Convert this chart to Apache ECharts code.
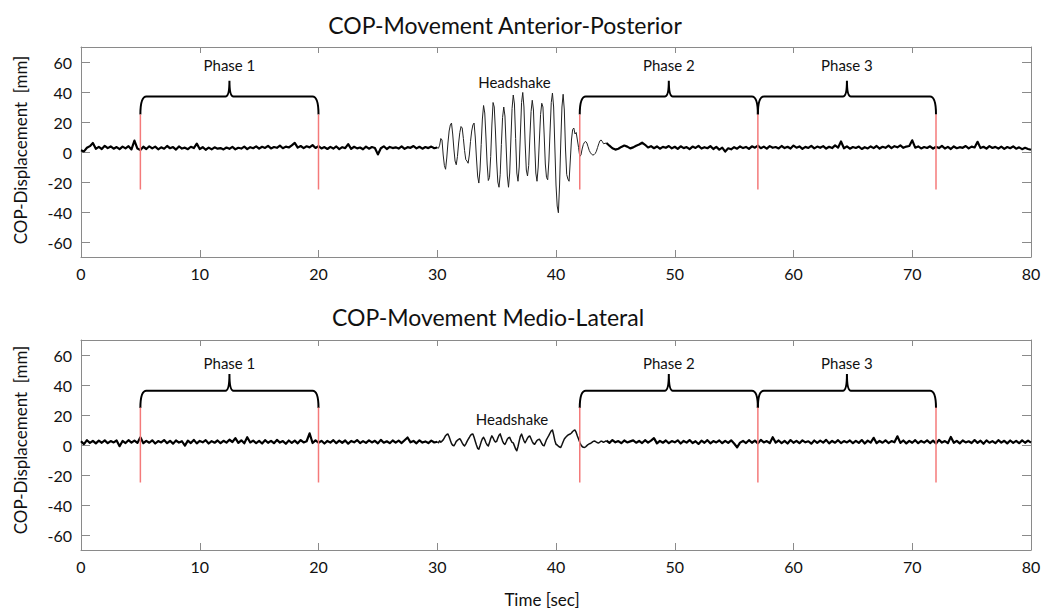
<!DOCTYPE html>
<html><head><meta charset="utf-8">
<script src="https://cdn.jsdelivr.net/npm/echarts@6/dist/echarts.min.js"></script>
<style>html,body{margin:0;padding:0;background:#fff}#c{width:1046px;height:612px}</style>
</head><body><div id="c"></div>
<script>
// ---------- tick labels ----------
const xTicks = [0, 10, 20, 30, 40, 50, 60, 70, 80];
const yTicks = [-60, -40, -20, 0, 20, 40, 60];

// ---------- phases & markers ----------
const phaseNames = ['Phase 1', 'Phase 2', 'Phase 3'];
const phaseStart = [5, 42, 57];
const phaseEnd = [20, 57, 72];
const markerTimes = [5, 20, 42, 57, 72];
const markerRange = [-25, 25];
const braceAP = { end: 25, line: 37, peak: 47.5, label: 57.7 };
const braceML = { end: 24.7, line: 36.2, peak: 47.3, label: 54.7 };
const headshakeAP = [36.5, 46.5];
const headshakeML = [36.3, 17.3];

// ---------- Anterior-Posterior signal (mm) ----------
// 0 .. 30 s, every 0.25 s
const apQuiet1 = [
  1.2, 0.4, 2.8, 3.9, 6.0, 2.1, 3.4, 2.0, 4.1, 2.6, 3.7, 2.2,
  3.3, 1.9, 3.6, 2.4, 3.9, 1.7, 7.6, 2.3, 1.4, 3.5, 2.0, 3.8,
  2.4, 3.6, 1.8, 3.1, 2.2, 4.0, 2.5, 3.3, 1.6, 3.7, 2.3, 2.9,
  1.9, 3.5, 2.6, 5.6, 2.0, 3.2, 1.5, 2.9, 1.8, 3.1, 2.2, 2.6,
  1.7, 3.0, 2.1, 3.4, 1.8, 2.8, 2.3, 3.6, 1.9, 3.2, 2.5, 3.8,
  2.2, 3.5, 2.7, 4.1, 2.4, 3.3, 2.8, 4.2, 2.5, 3.6, 3.0, 4.4,
  6.1, 2.9, 4.0, 2.6, 3.8, 3.1, 4.6, 2.7, 3.9, 2.4, 3.3, 2.0,
  3.4, 2.3, 3.7, 1.9, 3.2, 2.6, 5.2, 2.1, 3.5, 2.4, 3.0, 1.8,
  3.6, 2.2, 3.3, 2.7, -1.6, 2.5, 3.8, 2.0, 3.4, 2.6, 3.1, 2.3,
  3.7, 2.1, 3.2, 2.8, 4.0, 2.4, 3.5, 2.2, 3.3, 2.6, 3.6, 2.5,
  3.0
];
// 30.1 .. 44.0 s, every 0.1 s (one row per second)
const apShake = [
  2.5, 4.5, 9.0, 8.0, -2.0, -9.0, -11.5, -4.0, 6.0, 14.0,
  18.0, 19.3, 12.0, 2.0, -6.0, -8.5, -3.0, 6.0, 13.0, 17.0,
  16.0, 9.0, 1.0, -5.0, -6.0, -7.5, -2.0, 7.0, 14.0, 18.0,
  19.3, 10.0, -4.0, -16.0, -20.7, -12.0, 5.0, 22.0, 31.0, 26.0,
  10.0, -8.0, -19.0, -17.0, -3.0, 18.0, 33.0, 30.0, 14.0, -6.0,
  -20.0, -23.5, -15.0, 5.0, 23.0, 30.0, 24.0, 4.0, -16.0, -23.5,
  -14.0, 8.0, 29.0, 38.0, 32.0, 9.0, -14.0, -19.5, -10.0, 12.0,
  33.0, 39.7, 30.0, 6.0, -12.0, -16.0, -9.0, 10.0, 27.0, 34.5,
  28.0, 6.0, -14.0, -19.5, -10.0, 8.0, 25.0, 32.5, 30.0, 12.0,
  -8.0, -17.0, -18.5, -6.0, 14.0, 33.0, 39.3, 30.0, 4.0, -22.0,
  -36.0, -40.5, -22.0, 6.0, 30.0, 38.5, 28.0, 2.0, -15.0, -18.0,
  -19.5, -6.0, 8.0, 15.0, 16.0, 12.0, 13.0, 8.0, 3.0, -3.0,
  -2.0, 2.0, 5.0, 6.5, 7.0, 6.0, 3.5, 1.0, -0.5, -1.5,
  -2.0, -1.8, -1.0, 0.5, 3.0, 5.5, 7.5, 8.0, 7.0, 5.5
];
// 44.25 .. 80 s, every 0.25 s
const apQuiet2 = [
  6.0, 4.2, 2.5, 1.6, 2.2, 3.4, 4.3, 3.6, 2.4, 3.1, 4.2, 5.0,
  6.2, 4.8, 3.0, 3.9, 2.5, 3.7, 2.2, 3.4, 2.8, 4.0, 2.4, 3.5,
  2.1, 3.8, 2.6, 3.3, 1.9, 3.6, 2.7, 4.1, 2.3, 3.2, 2.5, 3.9,
  2.0, 3.4, 1.6, 2.9, 0.3, 2.5, 1.8, 3.2, 2.2, 3.7, 2.6, 3.4,
  2.1, 3.8, 2.9, 4.2, 2.5, 3.6, 2.2, 3.9, 2.8, 3.3, 2.4, 4.0,
  2.6, 3.5, 2.3, 4.3, 2.9, 3.7, 2.1, 3.4, 2.7, 4.1, 2.4, 3.6,
  2.8, 3.9, 2.3, 3.5, 2.6, 4.4, 2.9, 7.0, 2.5, 3.8, 2.2, 3.3,
  2.7, 3.6, 2.0, 3.2, 2.4, 3.7, 2.6, 4.0, 2.3, 3.5, 2.8, 4.2,
  2.6, 3.9, 3.1, 4.4, 2.8, 3.6, 4.0, 7.8, 2.9, 3.7, 2.4, 3.3,
  2.7, 3.8, 2.2, 3.5, 2.6, 4.1, 2.3, 3.4, 2.0, 3.7, 2.5, 3.2,
  2.8, 4.0, 2.4, 3.6, 3.0, 6.8, 2.6, 3.5, 2.2, 3.9, 2.7, 3.4,
  2.3, 3.6, 2.1, 3.3, 2.5, 3.8, 2.2, 3.1, 1.9, 2.8, 2.0, 1.5
];

// ---------- Medio-Lateral signal (mm) ----------
const mlQuiet1 = [
  2.5, 0.6, 3.2, 1.4, 2.8, 1.1, 2.9, 1.5, 3.1, 1.2, 2.6, 1.7,
  3.0, -0.8, 2.7, 1.3, 3.2, 1.6, 2.9, 1.4, 5.1, 1.2, 2.8, 1.5,
  3.1, 1.0, 2.6, 1.7, 3.3, 1.2, 2.8, 0.9, 3.0, 1.6, 2.5, -0.4,
  2.9, 1.3, 3.4, 1.1, 2.7, 1.8, 3.2, 1.0, 2.6, 1.5, 3.0, 1.2,
  2.8, 1.6, 3.5, 2.0, 4.6, 1.4, 3.1, 1.1, 5.2, 1.7, 2.9, 1.3,
  2.7, 1.0, 3.2, 1.5, 2.8, 1.2, 3.4, 1.6, 2.6, 0.8, 3.0, 1.4,
  2.9, 1.1, 3.3, 1.7, 2.5, 7.8, 1.3, 3.1, 1.5, 2.8, 1.0, 2.7,
  1.6, 3.2, 1.2, 2.9, 1.5, 3.0, 0.9, 2.7, 1.8, 3.3, 1.3, 2.6,
  1.4, 3.1, 1.7, 2.8, 1.1, 3.4, 1.5, 2.5, 1.2, 3.0, 1.6, 2.9,
  1.3, 3.2, 5.0, 1.8, 2.7, 1.1, 3.1, 1.6, 2.4, 1.3, 2.9, 1.7,
  2.2
];
const mlShake = [
  1.5, 2.8, 1.9, 2.6, 3.4, 4.8, 6.2, 7.0, 7.3, 5.5,
  3.2, 1.0, -0.2, -0.5, 0.8, 2.4, 3.1, 3.8, 4.2, 3.0,
  1.4, 0.1, -0.6, 0.6, 2.2, 3.8, 5.0, 6.4, 7.2, 7.4,
  5.2, 2.5, 0.0, -2.2, -2.8, -0.5, 2.1, 4.2, 5.1, 3.6,
  1.5, 0.1, -0.6, 1.6, 4.3, 6.1, 4.8, 3.0, 2.0, 2.4,
  4.6, 6.5, 7.4, 5.0, 2.6, 1.0, 0.4, 2.0, 3.9, 4.8,
  5.1, 3.2, 1.8, 1.4, -0.6, -2.7, -3.8, -1.0, 2.6, 5.8,
  7.3, 5.0, 2.8, 1.5, 3.0, 4.6, 5.7, 6.0, 4.2, 2.3,
  1.0, 0.5, 1.8, 3.0, 3.6, 3.9, 2.6, 1.0, -0.2, -0.5,
  1.5, 3.6, 5.0, 6.4, 8.0, 9.4, 10.0, 6.8, 3.0, 0.5,
  0.0, -0.8, -1.4, -1.6, 0.2, 2.2, 4.0, 5.0, 5.8, 6.6,
  7.0, 7.3, 8.0, 9.0, 9.7, 10.0, 8.4, 6.0, 4.0, 1.8,
  0.0, -1.0, -1.5, -1.6, -1.2, -0.4, 0.3, 0.8, 1.0, 1.6,
  2.2, 2.6, 2.5, 1.9, 1.5, 1.4, 2.0, 2.6, 2.3, 1.8
];
const mlQuiet2 = [
  2.9, 1.4, 3.3, 1.8, 2.6, 1.2, 3.0, 1.7, 2.4, 3.1, 1.5, 2.7,
  1.3, 3.2, 1.6, 2.9, 4.6, 1.1, 2.8, 1.5, 3.0, 1.2, 2.6, 1.8,
  3.1, 1.0, 2.7, 1.6, 3.3, 1.3, 2.5, 0.7, 2.9, 1.5, 3.2, 1.1,
  2.6, 1.7, 3.0, 1.2, 2.8, 1.4, 3.1, 1.0, -1.6, 1.6, 2.7, 1.3,
  3.2, 1.5, 2.9, 1.1, 3.4, 1.7, 2.6, 1.2, 5.2, 1.6, 3.0, 1.3,
  2.7, 1.0, 3.3, 1.5, 2.8, 1.2, 3.1, 1.8, 2.5, 0.9, 3.0, 1.4,
  2.9, 1.6, 3.4, 1.1, 2.7, 1.5, 3.2, 1.3, 2.6, 1.7, 3.0, 1.2,
  2.8, 1.4, 3.3, 1.0, 2.9, 1.6, 4.8, 1.2, 2.7, 1.5, 3.1, 1.3,
  2.6, 1.8, 5.8, 1.4, 3.0, 1.1, 2.8, 1.5, 3.2, 1.2, 2.7, 1.6,
  3.1, 1.3, 2.9, 1.0, 3.4, 1.6, 2.6, 1.2, 5.4, 1.5, 2.8, 1.1,
  3.0, 1.7, 2.5, 1.3, 3.3, 1.4, 2.9, 0.8, 3.1, 1.5, 2.6, 1.2,
  3.2, 1.6, 2.8, 1.1, 3.0, 1.4, 2.7, 1.2, 3.1, 1.5, 2.9, 1.6
];

// sampling layout of the segments (start time, step in s)
const quiet1Time = [0, 0.25];
const shakeTime = [30.1, 0.1];
const quiet2Time = [44.25, 0.25];

function seg(time, vals) {
  return vals.map((v, i) => [+(time[0] + i * time[1]).toFixed(2), v]);
}
function shakeWithJoins(q1, sh, q2) {
  const a = seg(quiet1Time, q1), b = seg(quiet2Time, q2);
  return [a[a.length - 1]].concat(seg(shakeTime, sh), [b[0]]);
}
const apQ1 = seg(quiet1Time, apQuiet1), apQ2 = seg(quiet2Time, apQuiet2);
const apSh = shakeWithJoins(apQuiet1, apShake, apQuiet2);
const mlQ1 = seg(quiet1Time, mlQuiet1), mlQ2 = seg(quiet2Time, mlQuiet2);
const mlSh = shakeWithJoins(mlQuiet1, mlShake, mlQuiet2);

const FONT = 'Lato, "Open Sans", sans-serif';
const AXIS_GRAY = '#8a8a8a';

const chart = echarts.init(document.getElementById('c'), null, { renderer: 'svg' });

function xAx(grid, top) {
  return {
    type: 'value', gridIndex: grid, position: top ? 'top' : 'bottom',
    min: 0, max: 80, interval: 10,
    axisLine: { show: true, onZero: false, lineStyle: { color: AXIS_GRAY, width: 1 } },
    axisTick: { show: true, inside: true, length: top ? 6 : 7, lineStyle: { color: AXIS_GRAY } },
    axisLabel: { show: !top, margin: 8, color: '#111', fontSize: 16, fontFamily: FONT,
      showMinLabel: true, showMaxLabel: true },
    splitLine: { show: false }
  };
}
function yAx(grid, right) {
  return {
    type: 'value', gridIndex: grid, position: right ? 'right' : 'left',
    min: -70, max: 70,
    axisLine: { show: true, onZero: false, lineStyle: { color: AXIS_GRAY, width: 1 } },
    axisTick: { show: true, inside: true, length: 9, customValues: yTicks, lineStyle: { color: AXIS_GRAY } },
    axisLabel: { show: !right, margin: 9, color: '#111', fontSize: 16, fontFamily: FONT, customValues: yTicks },
    splitLine: { show: false }
  };
}

function braceSeries(xi, yi, lv) {
  return {
    type: 'custom', xAxisIndex: xi, yAxisIndex: yi, silent: true, z: 5,
    data: phaseStart.map((s, i) => [s, phaseEnd[i]]),
    renderItem: function (params, api) {
      const x1 = api.value(0), x2 = api.value(1), xm = (x1 + x2) / 2;
      const a = api.coord([x1, lv.end]);
      const l = api.coord([x1, lv.line]);
      const b = api.coord([x2, lv.end]);
      const m = api.coord([xm, lv.peak]);
      const t = api.coord([xm, lv.label]);
      const r = 6, rc = 4;
      const ly = l[1];
      const d = 'M' + a[0] + ',' + a[1] +
        ' Q' + a[0] + ',' + ly + ' ' + (a[0] + r) + ',' + ly +
        ' L' + (m[0] - rc) + ',' + ly +
        ' Q' + m[0] + ',' + ly + ' ' + m[0] + ',' + m[1] +
        ' Q' + m[0] + ',' + ly + ' ' + (m[0] + rc) + ',' + ly +
        ' L' + (b[0] - r) + ',' + ly +
        ' Q' + b[0] + ',' + ly + ' ' + b[0] + ',' + b[1];
      return {
        type: 'group',
        children: [
          { type: 'path', shape: { pathData: d }, style: { fill: 'none', stroke: '#000', lineWidth: 2 } },
          { type: 'text', x: t[0], y: t[1], style: { text: phaseNames[params.dataIndex], fill: '#111',
            font: '15px ' + FONT, align: 'center', verticalAlign: 'middle' } }
        ]
      };
    }
  };
}
function markerSeries(xi, yi) {
  return {
    type: 'custom', xAxisIndex: xi, yAxisIndex: yi, silent: true, z: 6,
    data: markerTimes.map(t => [t]),
    renderItem: function (params, api) {
      const p1 = api.coord([api.value(0), markerRange[0]]);
      const p2 = api.coord([api.value(0), markerRange[1]]);
      return { type: 'line', shape: { x1: p1[0], y1: p1[1], x2: p2[0], y2: p2[1] },
        style: { stroke: '#f47a7a', lineWidth: 1.5 } };
    }
  };
}
function textSeries(xi, yi, pos) {
  return {
    type: 'custom', xAxisIndex: xi, yAxisIndex: yi, silent: true, z: 5,
    data: [pos],
    renderItem: function (params, api) {
      const p = api.coord([api.value(0), api.value(1)]);
      return { type: 'text', x: p[0], y: p[1], style: { text: 'Headshake', fill: '#111',
        font: '15px ' + FONT, align: 'center', verticalAlign: 'middle' } };
    }
  };
}
function signal(xi, yi, data, w, col) {
  return {
    type: 'line', xAxisIndex: xi, yAxisIndex: yi, data: data, showSymbol: false, symbol: 'none',
    sampling: false, silent: true, z: 3,
    lineStyle: { color: col, width: w, join: 'round' }
  };
}

chart.setOption({
  animation: false,
  backgroundColor: '#fff',
  grid: [
    { left: 81, top: 47, width: 950, height: 210 },
    { left: 81, top: 340, width: 950, height: 210 }
  ],
  xAxis: [xAx(0, false), xAx(0, true), xAx(1, false), xAx(1, true)],
  yAxis: [yAx(0, false), yAx(0, true), yAx(1, false), yAx(1, true)],
  graphic: [
    { type: 'text', x: 505, y: 25, style: { text: 'COP-Movement Anterior-Posterior', fill: '#111',
      font: '23px ' + FONT, align: 'center', verticalAlign: 'middle' } },
    { type: 'text', x: 488, y: 317, style: { text: 'COP-Movement Medio-Lateral', fill: '#111',
      font: '23px ' + FONT, align: 'center', verticalAlign: 'middle' } },
    { type: 'text', x: 20, y: 150, rotation: Math.PI / 2, style: { text: 'COP-Displacement  [mm]', fill: '#111',
      font: '17px ' + FONT, align: 'center', verticalAlign: 'middle' } },
    { type: 'text', x: 20, y: 440, rotation: Math.PI / 2, style: { text: 'COP-Displacement  [mm]', fill: '#111',
      font: '17px ' + FONT, align: 'center', verticalAlign: 'middle' } },
    { type: 'text', x: 542, y: 599, style: { text: 'Time [sec]', fill: '#111',
      font: '17px ' + FONT, align: 'center', verticalAlign: 'middle' } }
  ],
  series: [
    markerSeries(0, 0),
    signal(0, 0, apQ1, 2.2, '#000'), signal(0, 0, apSh, 1, '#222'), signal(0, 0, apQ2, 2.2, '#000'),
    braceSeries(0, 0, braceAP), textSeries(0, 0, headshakeAP),
    markerSeries(2, 2),
    signal(2, 2, mlQ1, 2.2, '#000'), signal(2, 2, mlSh, 1.5, '#111'), signal(2, 2, mlQ2, 2.2, '#000'),
    braceSeries(2, 2, braceML), textSeries(2, 2, headshakeML)
  ]
});
</script>
</body></html>
